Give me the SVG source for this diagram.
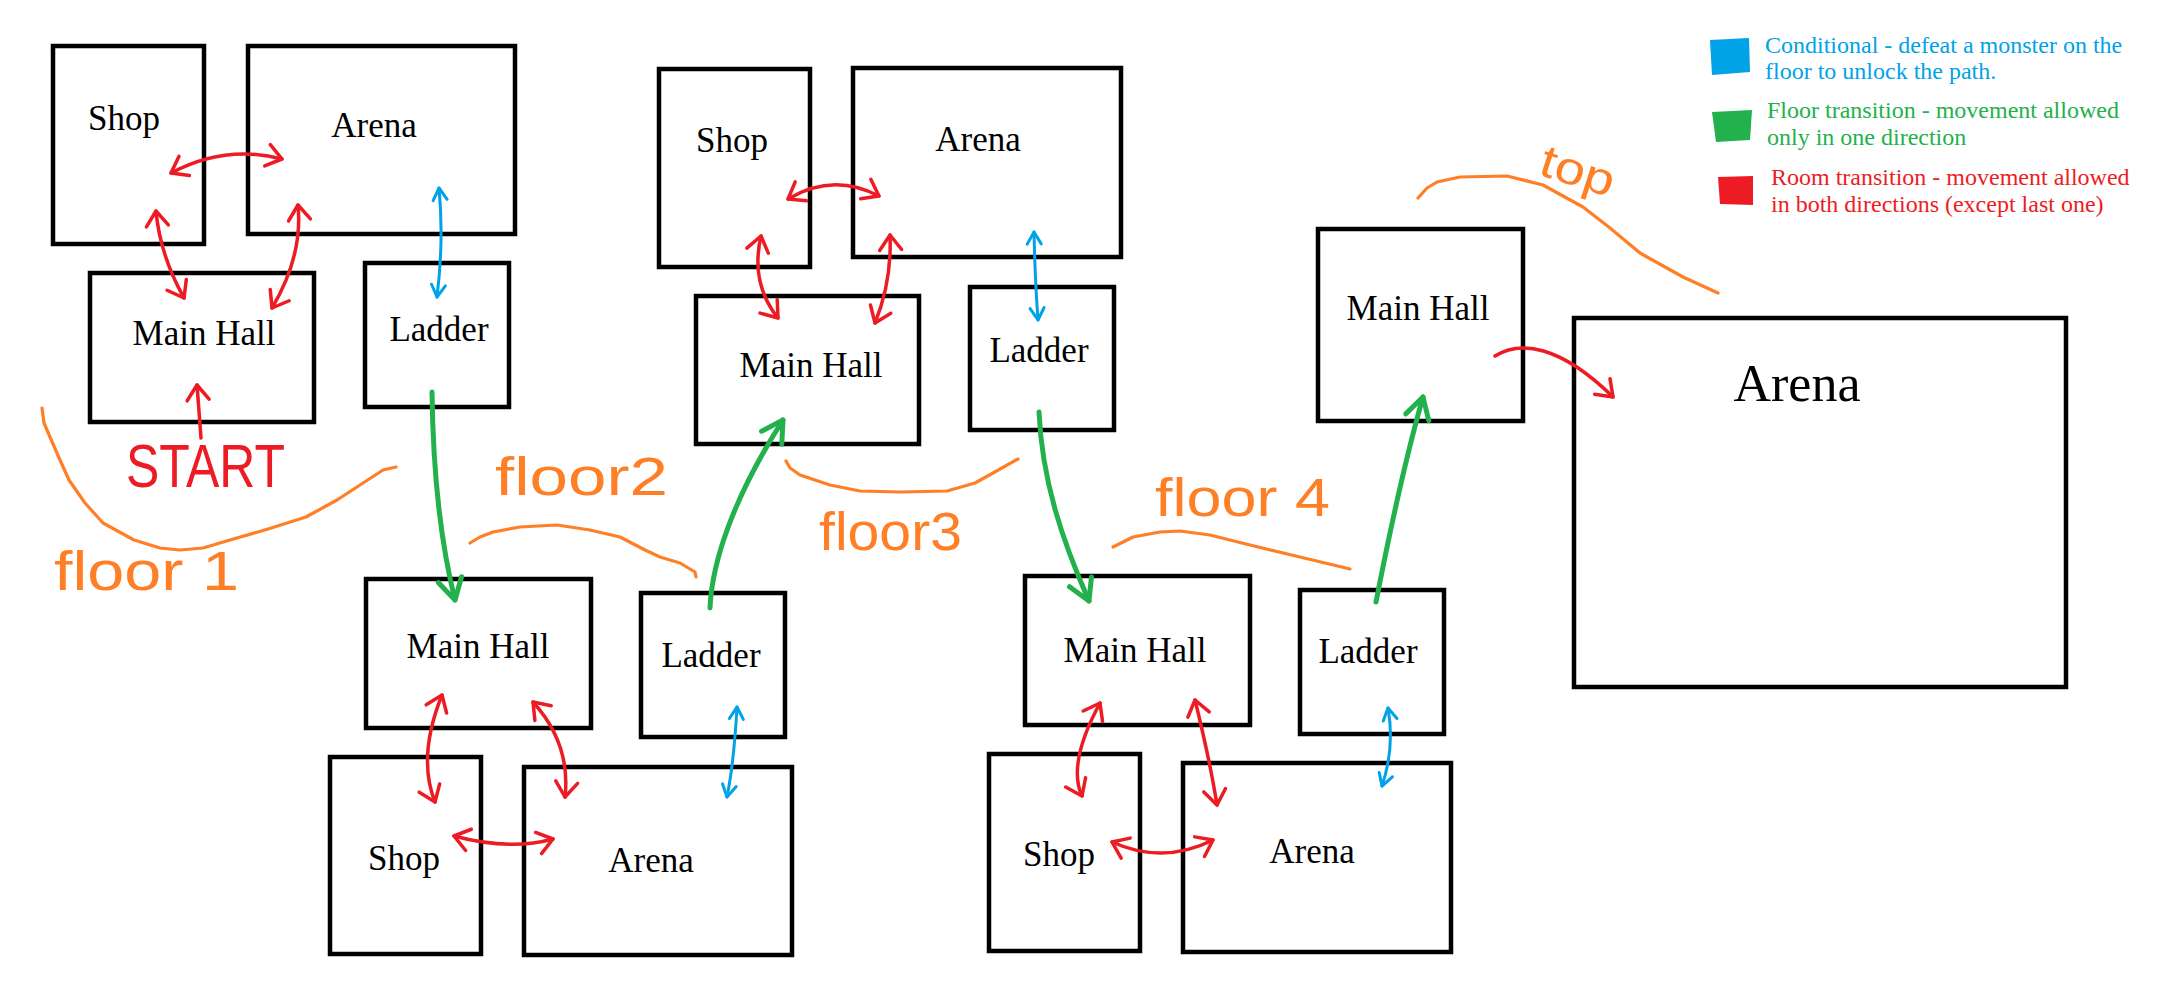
<svg xmlns="http://www.w3.org/2000/svg" width="2167" height="1000" viewBox="0 0 2167 1000">
<style>
.box{fill:none;stroke:#000;stroke-width:4.5}
.lbl{font-family:"Liberation Serif","Times New Roman",serif;font-size:35px;fill:#000;text-anchor:middle}
.red{fill:none;stroke:#ED1C24;stroke-width:3.5;stroke-linecap:round}
.blue{fill:none;stroke:#00A2E8;stroke-width:3;stroke-linecap:round}
.green{fill:none;stroke:#22B14C;stroke-width:5;stroke-linecap:round}
.orange{fill:none;stroke:#FF7F27;stroke-width:3.2;stroke-linecap:round;stroke-linejoin:round}
.hand{font-family:"Liberation Sans","DejaVu Sans",sans-serif;fill:#FF7F27}
.leg{font-family:"Liberation Serif","Times New Roman",serif;font-size:24px}
</style>
<defs>
<marker id="ah-red" viewBox="-20 -14 24 28" refX="0" refY="0" markerWidth="24" markerHeight="28" markerUnits="userSpaceOnUse" orient="auto-start-reverse"><path d="M-15,-11 L0,0 L-15,11" fill="none" stroke="#ED1C24" stroke-width="3.5" stroke-linecap="round" stroke-linejoin="round"/></marker>
<marker id="ah-blue" viewBox="-16 -10 20 20" refX="0" refY="0" markerWidth="20" markerHeight="20" markerUnits="userSpaceOnUse" orient="auto-start-reverse"><path d="M-12,-7 L0,0 L-12,7" fill="none" stroke="#00A2E8" stroke-width="3" stroke-linecap="round" stroke-linejoin="round"/></marker>
<marker id="ah-green" viewBox="-26 -16 30 32" refX="0" refY="0" markerWidth="30" markerHeight="32" markerUnits="userSpaceOnUse" orient="auto"><path d="M-21,-12 L0,0 L-21,12" fill="none" stroke="#22B14C" stroke-width="5" stroke-linecap="round" stroke-linejoin="round"/></marker>
</defs>
<rect width="2167" height="1000" fill="#fff"/>

<!-- Floor 1 -->
<g id="f1-shop"><rect class="box" x="53" y="46" width="151" height="198"/><text class="lbl" x="124" y="130">Shop</text></g>
<g id="f1-arena"><rect class="box" x="248" y="46" width="267" height="188"/><text class="lbl" x="374" y="137">Arena</text></g>
<g id="f1-mainhall"><rect class="box" x="90" y="273" width="224" height="149"/><text class="lbl" x="204" y="345">Main Hall</text></g>
<g id="f1-ladder"><rect class="box" x="365" y="263" width="144" height="144"/><text class="lbl" x="439" y="341">Ladder</text></g>

<!-- Floor 2 -->
<g id="f2-mainhall"><rect class="box" x="366" y="579" width="225" height="149"/><text class="lbl" x="478" y="658">Main Hall</text></g>
<g id="f2-ladder"><rect class="box" x="641" y="593" width="144" height="144"/><text class="lbl" x="711" y="667">Ladder</text></g>
<g id="f2-shop"><rect class="box" x="330" y="757" width="151" height="197"/><text class="lbl" x="404" y="870">Shop</text></g>
<g id="f2-arena"><rect class="box" x="524" y="767" width="268" height="188"/><text class="lbl" x="651" y="872">Arena</text></g>

<!-- Floor 3 -->
<g id="f3-shop"><rect class="box" x="659" y="69" width="151" height="198"/><text class="lbl" x="732" y="152">Shop</text></g>
<g id="f3-arena"><rect class="box" x="853" y="68" width="268" height="189"/><text class="lbl" x="978" y="151">Arena</text></g>
<g id="f3-mainhall"><rect class="box" x="696" y="296" width="223" height="148"/><text class="lbl" x="811" y="377">Main Hall</text></g>
<g id="f3-ladder"><rect class="box" x="970" y="287" width="144" height="143"/><text class="lbl" x="1039" y="362">Ladder</text></g>

<!-- Floor 4 -->
<g id="f4-mainhall"><rect class="box" x="1025" y="576" width="225" height="149"/><text class="lbl" x="1135" y="662">Main Hall</text></g>
<g id="f4-ladder"><rect class="box" x="1300" y="590" width="144" height="144"/><text class="lbl" x="1368" y="663">Ladder</text></g>
<g id="f4-shop"><rect class="box" x="989" y="754" width="151" height="197"/><text class="lbl" x="1059" y="866">Shop</text></g>
<g id="f4-arena"><rect class="box" x="1183" y="763" width="268" height="189"/><text class="lbl" x="1312" y="863">Arena</text></g>

<!-- Top -->
<g id="top-mainhall"><rect class="box" x="1318" y="229" width="205" height="192"/><text class="lbl" x="1418" y="320">Main Hall</text></g>
<g id="top-arena"><rect class="box" x="1574" y="318" width="492" height="369"/><text class="lbl" x="1797" y="401" style="font-size:52px">Arena</text></g>

<g id="connectors">
<!-- floor 1 -->
<path class="red" d="M171,173 Q225,144 282,159" marker-start="url(#ah-red)" marker-end="url(#ah-red)"/>
<path class="red" d="M156,211 Q160,255 184,298" marker-start="url(#ah-red)" marker-end="url(#ah-red)"/>
<path class="red" d="M298,205 Q303,256 272,308" marker-start="url(#ah-red)" marker-end="url(#ah-red)"/>
<path class="blue" d="M439,188 Q444,240 437,297" marker-start="url(#ah-blue)" marker-end="url(#ah-blue)"/>
<path class="red" d="M201,438 L197,385" marker-end="url(#ah-red)"/>
<path class="green" d="M432,392 C433,470 440,540 455,600" marker-end="url(#ah-green)"/>
<!-- floor 2 -->
<path class="red" d="M442,695 Q417,757 435,802" marker-start="url(#ah-red)" marker-end="url(#ah-red)"/>
<path class="red" d="M533,702 Q571,744 565,797" marker-start="url(#ah-red)" marker-end="url(#ah-red)"/>
<path class="red" d="M454,836 Q510,851 553,839" marker-start="url(#ah-red)" marker-end="url(#ah-red)"/>
<path class="blue" d="M737,707 Q734,762 727,797" marker-start="url(#ah-blue)" marker-end="url(#ah-blue)"/>
<path class="green" d="M710,608 C712,560 735,495 783,420" marker-end="url(#ah-green)"/>
<!-- floor 3 -->
<path class="red" d="M788,199 Q833,172 879,196" marker-start="url(#ah-red)" marker-end="url(#ah-red)"/>
<path class="red" d="M761,236 Q750,283 778,318" marker-start="url(#ah-red)" marker-end="url(#ah-red)"/>
<path class="red" d="M890,235 Q892,281 875,323" marker-start="url(#ah-red)" marker-end="url(#ah-red)"/>
<path class="blue" d="M1034,232 Q1035,280 1038,320" marker-start="url(#ah-blue)" marker-end="url(#ah-blue)"/>
<path class="green" d="M1039,412 C1042,480 1062,540 1089,601" marker-end="url(#ah-green)"/>
<!-- floor 4 -->
<path class="red" d="M1100,703 Q1067,764 1082,796" marker-start="url(#ah-red)" marker-end="url(#ah-red)"/>
<path class="red" d="M1195,700 Q1210,761 1217,805" marker-start="url(#ah-red)" marker-end="url(#ah-red)"/>
<path class="red" d="M1112,842 Q1163,865 1213,840" marker-start="url(#ah-red)" marker-end="url(#ah-red)"/>
<path class="blue" d="M1388,708 Q1395,747 1382,786" marker-start="url(#ah-blue)" marker-end="url(#ah-blue)"/>
<path class="green" d="M1376,602 C1390,530 1405,460 1423,397" marker-end="url(#ah-green)"/>
<!-- top -->
<path class="red" d="M1495,356 C1520,340 1560,345 1613,397" marker-end="url(#ah-red)"/>
</g>

<g id="annotations">
<text x="126" y="487" font-family="Liberation Sans, DejaVu Sans, sans-serif" font-size="61" fill="#ED1C24" textLength="159" lengthAdjust="spacingAndGlyphs">START</text>
<polyline class="orange" points="42,408 44,423 50,437 60,460 69,480 85,503 103,523 134,540 160,548 180,550 203,548 230,540 268,529 306,517 337,500 360,485 383,470 396,467"/>
<text class="hand" x="54" y="590" font-size="56" textLength="185" lengthAdjust="spacingAndGlyphs">floor 1</text>
<text class="hand" x="495" y="495" font-size="54" textLength="173" lengthAdjust="spacingAndGlyphs">floor2</text>
<polyline class="orange" points="470,543 480,537 493,532 520,527 557,525 590,530 620,537 645,550 660,557 680,563 695,572 696,577"/>
<polyline class="orange" points="786,461 790,468 800,475 830,485 860,491 900,492 947,491 975,483 993,473 1018,459"/>
<text class="hand" x="819" y="550" font-size="54" textLength="143" lengthAdjust="spacingAndGlyphs">floor3</text>
<text class="hand" x="1155" y="516" font-size="54" textLength="175" lengthAdjust="spacingAndGlyphs">floor 4</text>
<polyline class="orange" points="1113,547 1133,537 1160,532 1180,531 1210,535 1250,545 1300,557 1350,569"/>
<polyline class="orange" points="1418,198 1427,188 1437,182 1460,177 1507,176 1543,185 1583,207 1610,228 1640,253 1683,277 1718,293"/>
<text class="hand" x="1537" y="174" font-size="46" textLength="76" lengthAdjust="spacingAndGlyphs" transform="rotate(18 1537 174)">top</text>
</g>

<g id="legend">
<polygon points="1710,40 1749,38 1750,72 1712,75" fill="#00A2E8"/>
<text class="leg" x="1765" y="53" fill="#00A2E8">Conditional - defeat a monster on the</text>
<text class="leg" x="1765" y="79" fill="#00A2E8">floor to unlock the path.</text>
<polygon points="1712,112 1752,110 1750,140 1716,142" fill="#22B14C"/>
<text class="leg" x="1767" y="118" fill="#22B14C">Floor transition - movement allowed</text>
<text class="leg" x="1767" y="145" fill="#22B14C">only in one direction</text>
<polygon points="1718,177 1753,176 1753,205 1720,204" fill="#ED1C24"/>
<text class="leg" x="1771" y="185" fill="#ED1C24">Room transition - movement allowed</text>
<text class="leg" x="1771" y="212" fill="#ED1C24">in both directions (except last one)</text>
</g>
</svg>
